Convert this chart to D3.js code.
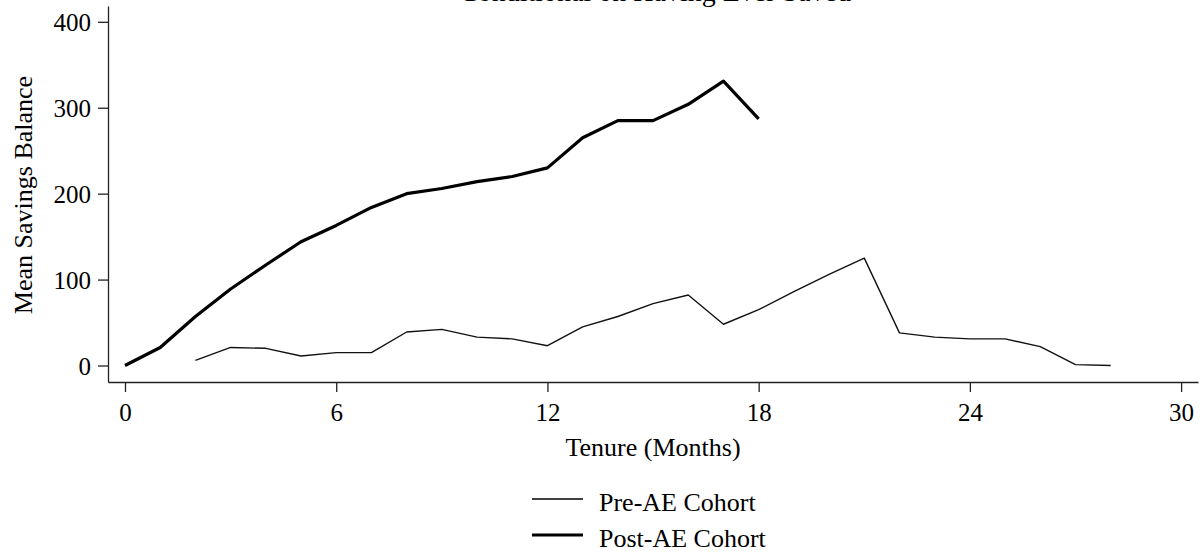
<!DOCTYPE html>
<html>
<head>
<meta charset="utf-8">
<script src="https://cdn.jsdelivr.net/npm/d3@7"></script>
<style>
  body { margin: 0; background: #fff; }
  svg { display: block; font-family: "Liberation Serif", "Times New Roman", serif; }
  .axis path, .axis line { stroke: #222; stroke-width: 1.3px; }
  .axis text { font-size: 25px; fill: #000; font-family: "Liberation Serif", serif; }
</style>
</head>
<body>
<div id="chart"></div>
<script>
// months on the x axis
let preMonths = d3.range(2, 29);
let preValues = [6, 21, 20, 11, 15, 15, 39, 42, 33, 31, 23, 45, 57, 72, 82, 48, 65, 86, 106, 125, 38, 33, 31, 31, 22, 1, 0];
let postMonths = d3.range(0, 19);
let postValues = [0, 21, 57, 89, 117, 144, 163, 184, 200, 206, 214, 220, 230, 265, 285, 285, 304, 331, 287];
let xTicks = [0, 6, 12, 18, 24, 30];
let yTicks = [0, 100, 200, 300, 400];
let seriesNames = ["Pre-AE Cohort", "Post-AE Cohort"];

let width = 1203, height = 554;

let svg = d3.select("#chart").append("svg")
    .attr("width", width)
    .attr("height", height);

let xScale = d3.scaleLinear().domain([-0.483, 30.48]).range([108, 1198]);
let yScale = d3.scaleLinear().domain([-19.2, 418.4]).range([382, 6]);

// title, cut off at top like the original
svg.append("text")
    .attr("x", 655)
    .attr("y", 1)
    .style("text-anchor", "middle")
    .style("font-size", "28px")
    .text("Conditional on Having Ever Saved");

let xAxis = d3.axisBottom(xScale).tickValues(xTicks).tickSize(10).tickSizeOuter(0).tickPadding(11);
let yAxis = d3.axisLeft(yScale).tickValues(yTicks).tickSize(10).tickSizeOuter(0).tickPadding(7);

svg.append("g")
    .attr("class", "axis")
    .attr("transform", "translate(0,382)")
    .call(xAxis);

svg.append("g")
    .attr("class", "axis")
    .attr("transform", "translate(108,0)")
    .call(yAxis)
    .selectAll("text")
    .attr("dy", "0.35em");

// axis labels
svg.append("text")
    .attr("x", 653)
    .attr("y", 456)
    .style("text-anchor", "middle")
    .style("font-size", "26px")
    .text("Tenure (Months)");

svg.append("text")
    .style("text-anchor", "middle")
    .style("font-size", "26px")
    .attr("transform", "translate(32,195) rotate(-90)")
    .text("Mean Savings Balance");

let line = d3.line()
    .x(d => xScale(d[0]))
    .y(d => yScale(d[1]));

let preData = preMonths.map((m, i) => [m, preValues[i]]);
let postData = postMonths.map((m, i) => [m, postValues[i]]);

svg.append("path")
    .datum(preData)
    .attr("d", line)
    .attr("fill", "none")
    .attr("stroke", "#111")
    .attr("stroke-width", 1.4)
    .attr("stroke-linejoin", "round");

svg.append("path")
    .datum(postData)
    .attr("d", line)
    .attr("fill", "none")
    .attr("stroke", "#000")
    .attr("stroke-width", 3.2)
    .attr("stroke-linejoin", "round");

// legend
let legend = svg.append("g").attr("transform", "translate(532,499)");
let widths = [1.4, 3.2];
seriesNames.forEach((name, i) => {
    let g = legend.append("g").attr("transform", "translate(0," + (i * 36) + ")");
    g.append("line")
        .attr("x1", 0).attr("x2", 51)
        .attr("y1", 0).attr("y2", 0)
        .attr("stroke", "#000")
        .attr("stroke-width", widths[i]);
    g.append("text")
        .attr("x", 67)
        .attr("y", 3)
        .attr("dy", "0.35em")
        .style("font-size", "26px")
        .text(name);
});
</script>
</body>
</html>
